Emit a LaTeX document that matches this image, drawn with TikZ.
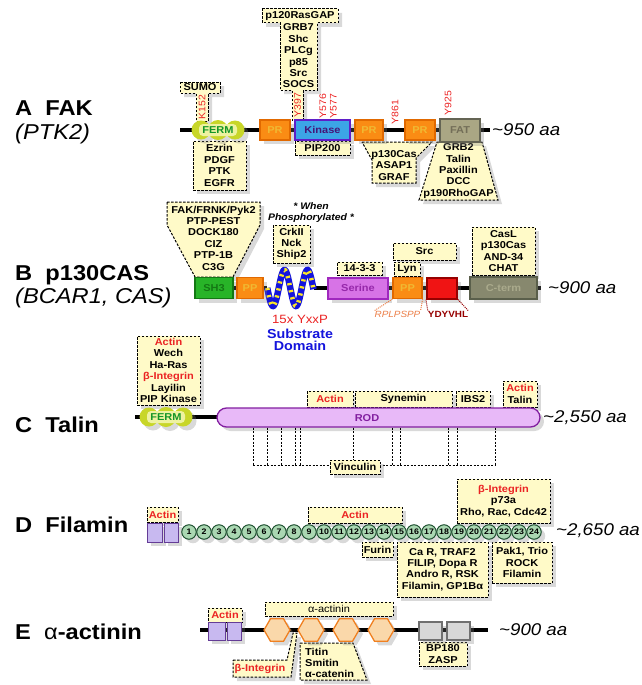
\documentclass[tikz,border=0pt]{standalone}
\usepackage{fontspec}
\setmainfont{Liberation Sans}[FakeStretch=1.1]
\usetikzlibrary{shapes.geometric,shadows}
\definecolor{bindfill}{RGB}{255,250,200}
\definecolor{fermout}{RGB}{200,214,40}
\definecolor{fermin}{RGB}{238,242,160}
\definecolor{fermtxt}{RGB}{20,150,40}
\definecolor{prfill}{RGB}{250,140,20}
\definecolor{prdraw}{RGB}{225,105,0}
\definecolor{prtxt}{RGB}{240,185,50}
\definecolor{kinfill}{RGB}{60,165,230}
\definecolor{kindraw}{RGB}{95,30,200}
\definecolor{kintxt}{RGB}{70,20,120}
\definecolor{fatfill}{RGB}{170,166,132}
\definecolor{fatdraw}{RGB}{100,100,84}
\definecolor{fattxt}{RGB}{115,110,88}
\definecolor{sh3fill}{RGB}{40,180,40}
\definecolor{sh3draw}{RGB}{20,120,20}
\definecolor{serfill}{RGB}{215,115,230}
\definecolor{serdraw}{RGB}{160,40,190}
\definecolor{sertxt}{RGB}{150,40,170}
\definecolor{ydfill}{RGB}{240,20,20}
\definecolor{yddraw}{RGB}{150,0,0}
\definecolor{ctfill}{RGB}{135,136,110}
\definecolor{ctdraw}{RGB}{90,95,75}
\definecolor{cttxt}{RGB}{170,170,140}
\definecolor{rodfill}{RGB}{232,185,248}
\definecolor{roddraw}{RGB}{130,30,160}
\definecolor{chfill}{RGB}{200,185,240}
\definecolor{chdraw}{RGB}{100,60,150}
\definecolor{igfill}{RGB}{170,215,178}
\definecolor{igdraw}{RGB}{30,80,48}
\definecolor{hexfill}{RGB}{250,216,170}
\definecolor{hexdraw}{RGB}{240,128,32}
\definecolor{spfill}{RGB}{216,216,216}
\definecolor{spdraw}{RGB}{112,112,112}
\definecolor{sitered}{RGB}{235,35,35}
\definecolor{subblue}{RGB}{20,20,220}
\definecolor{coilyel}{RGB}{250,230,40}
\definecolor{rplcol}{RGB}{235,125,70}
\begin{document}
\begin{tikzpicture}[x=1pt,y=-1pt,
  every node/.style={font=\fontsize{10}{11.4}\selectfont\bfseries,inner sep=0pt},
  shadowed/.style={drop shadow={opacity=0.3,shadow xshift=4pt,shadow yshift=-4pt}},
  bind/.style={draw,fill=bindfill,line width=1pt,dash pattern=on 2.5pt off 1.5pt,shadowed},
  wh/.style 2 args={minimum width=#1pt,minimum height=#2pt},
  backbone/.style={line width=3.5pt},
  dom/.style={draw,line width=1.3pt,shadowed},
  pr/.style={dom,fill=prfill,draw=prdraw,text=prtxt},
  ferm/.style={fill=fermin,rounded corners=4pt,minimum width=38pt,minimum height=12pt,text=fermtxt},
  igfold/.style={circle,draw=igdraw,fill=igfill,line width=1pt,minimum size=14.5pt,font=\fontsize{8}{9}\selectfont\bfseries,shadowed},
  hexa/.style={regular polygon,regular polygon sides=6,minimum size=26pt,draw=hexdraw,fill=hexfill,line width=1.3pt,shadowed},
  site/.style={font=\fontsize{9.5}{10.5}\selectfont,text=sitered,rotate=90,align=center},
  aalen/.style={font=\fontsize{17}{20}\selectfont\itshape,anchor=west},
  title/.style={font=\fontsize{21.5}{24}\selectfont\bfseries,anchor=base west},
  subtitle/.style={font=\fontsize{21.5}{24}\selectfont\itshape,anchor=base west},
  hinge/.style={densely dotted,line width=1pt},
  tether/.style={line width=1pt,dash pattern=on 2pt off 1.5pt}]
\useasboundingbox (0,0) rectangle (641,685);

% row labels
\node[title] (labA) at (15,115) {A~~FAK};
\node[subtitle] (subA) at (15,139) {(PTK2)};
\node[title] (labB) at (15,280) {B~~p130CAS};
\node[subtitle] (subB) at (15,303) {(BCAR1, CAS)};
\node[title] (labC) at (15,432) {C~~Talin};
\node[title] (labD) at (15,532) {D~~Filamin};
\node[title] (labE) at (15,639) {E~~\textmd{α}-actinin};

% A: FAK
\draw[bind] (180,82) -- (220,82) -- (220,93) -- (208,93) -- (208,121) -- (196,121) -- (196,93) -- (180,93) -- cycle;
\node (sumo) at (200,87.5) {SUMO};
\node[site] (k152) at (202,107) {K152};
\draw[bind] (262,9) -- (338,9) -- (338,23) -- (317,23) -- (317,90) -- (303,90) -- (303,120) -- (292,120) -- (292,90) -- (280,90) -- (280,23) -- (262,23) -- cycle;
\node (rasgap) at (300,16) {p120RasGAP};
\node[align=center] (grb7) at (298.5,56) {GRB7\\Shc\\PLCg\\p85\\Src\\SOCS};
\node[site] (y397) at (297.5,105) {Y397};
\node[site] (y576) at (328,106) {Y576\\Y577};
\node[site] (y861) at (395,112) {Y861};
\node[site] (y925) at (448,103) {Y925};
\node[bind,wh={53}{49},align=center] (ezrin) at (219.5,165.5) {Ezrin\\PDGF\\PTK\\EGFR};
\node[bind,wh={55}{14}] (pip200) at (322.5,148) {PIP200};
\draw[bind] (362,142) -- (432,142) -- (416,158) -- (416,183) -- (372,183) -- (372,160) -- cycle;
\node[align=center] (asap1) at (394,165.5) {p130Cas\\ASAP1\\GRAF};
\draw[bind] (437,142) -- (482,142) -- (498,200) -- (419,200) -- cycle;
\node[align=center] (grb2) at (458.5,171) {GRB2\\Talin\\Paxillin\\DCC\\p190RhoGAP};

\coordinate (fakN) at (180,130);
\coordinate (fakC) at (490,130);
\draw[backbone] (fakN) -- (fakC);
\fill[fermout,shadowed] (201,130) circle (9.5) (218,130) circle (10) (235,130) circle (9.5);
\node[ferm] (fermA) at (218,130) {FERM};
\node[pr,wh={30}{20}] (prA1) at (275,130) {PR};
\node[dom,wh={55}{20},fill=kinfill,draw=kindraw,text=kintxt,line width=2pt] (kinase) at (322.5,130) {Kinase};
\node[pr,wh={28}{20}] (prA2) at (369,130) {PR};
\node[pr,wh={30}{20}] (prA3) at (420,130) {PR};
\node[dom,wh={40}{23},fill=fatfill,draw=fatdraw,text=fattxt] (fat) at (460,130.5) {FAT};
\node[aalen] (lenA) at (492,130) {\textasciitilde950 aa};

% B: p130CAS
\draw[bind] (167,202) -- (260,202) -- (260,225) -- (233,277) -- (195,277) -- (167,225) -- cycle;
\node[align=center] (fakfrnk) at (213.5,238) {FAK/FRNK/Pyk2\\PTP-PEST\\DOCK180\\CIZ\\PTP-1B\\C3G};
\node[align=center,font=\fontsize{9.5}{11.5}\selectfont\bfseries\itshape] (whenP) at (311,212.5) {* When\\Phosphorylated *};
\node[bind,wh={37}{38},align=center] (crk) at (291.5,244) {CrkII\\Nck\\Ship2};
\node[bind,wh={45}{13}] (p1433) at (359.5,268.5) {14-3-3};
\node[bind,wh={63}{17}] (src) at (424.5,251.5) {Src};
\node[bind,wh={26}{14}] (lyn) at (407,269) {Lyn};
\node[bind,wh={63}{48},align=center] (casl) at (503.5,251) {CasL\\p130Cas\\AND-34\\CHAT};

\coordinate (casN) at (214,288);
\coordinate (coilL) at (267.25,288);
\coordinate (coilR) at (313.5,288);
\coordinate (casC) at (541,288);
\draw[backbone] (casN) -- (coilL);
\draw[backbone] (coilR) -- (casC);
\draw[line width=6.5pt,subblue,domain=267.25:313.5,samples=80,smooth] plot (\x,{288+18*sin(15.652*(\x-267.25))});
\draw[line width=4.5pt,coilyel,dash pattern=on 2.2pt off 5pt,domain=267.25:313.5,samples=80,smooth] plot (\x,{288+18*sin(15.652*(\x-267.25))});
\node[dom,wh={38}{21},fill=sh3fill,draw=sh3draw,text=sh3draw] (sh3) at (214,288) {SH3};
\node[pr,wh={26}{21}] (pp1) at (250,288) {PP};
\node[dom,wh={60}{21},fill=serfill,draw=serdraw,text=sertxt,line width=2pt] (serine) at (358,288) {Serine};
\node[pr,wh={29}{21}] (pp2) at (407.5,288) {PP};
\node[dom,wh={30}{21},fill=ydfill,draw=yddraw,line width=2pt] (yd) at (442,288) {};
\node[dom,wh={67}{22},fill=ctfill,draw=ctdraw,text=cttxt] (cterm) at (503.5,288) {C-term};
\node[aalen] (lenB) at (548,288) {\textasciitilde900 aa};
\node[font=\fontsize{9}{10}\selectfont\itshape,text=rplcol] (rplp) at (397.5,314) {RPLPSPP};
\node[font=\fontsize{9}{10}\selectfont\bfseries,text=yddraw] (ydyvhl) at (448,314) {YDYVHL};
\draw[hinge,rplcol] (pp2.south west) -- (rplp.north west);
\draw[hinge,rplcol] (pp2.south east) -- (rplp.north east);
\draw[hinge,yddraw] (yd.south west) -- (ydyvhl.north west);
\draw[hinge,yddraw] (yd.south east) -- (ydyvhl.north east);
\node[font=\fontsize{12}{13}\selectfont,text=sitered] (yxxp) at (300,319.5) {15x YxxP};
\node[font=\fontsize{13}{12.5}\selectfont\bfseries,text=subblue,align=center] (subdom) at (300,340) {Substrate\\Domain};

% C: Talin
\node[bind,wh={63}{69},align=center] (talbind) at (168.5,370.5) {\textcolor{sitered}{Actin}\\Wech\\Ha-Ras\\\textcolor{sitered}{β-Integrin}\\Layilin\\PIP Kinase};
\node[bind,wh={46}{16},text=sitered] (actC1) at (330,399) {Actin};
\node[bind,wh={97}{16}] (synemin) at (403.5,399) {Synemin};
\node[bind,wh={34}{16}] (ibs2) at (473,399) {IBS2};
\node[bind,wh={34}{26},align=center] (actC2) at (520,394) {\textcolor{sitered}{Actin}\\Talin};
\coordinate (talN) at (135,417);
\coordinate (talM) at (230,417);
\draw[backbone] (talN) -- (talM);
\fill[fermout,shadowed] (149,417) circle (9.5) (166,417) circle (10) (183,417) circle (9.5);
\node[ferm] (fermC) at (166,417) {FERM};
\node[dom,wh={323}{19},rounded corners=9.5pt,fill=rodfill,draw=roddraw] (rod) at (378.5,417.5) {};
\node[text=roddraw] (rodtxt) at (367,418) {ROD};
\node[aalen] (lenC) at (543,418) {\textasciitilde2,550 aa};
\coordinate (vl) at (253,465);
\coordinate (vr) at (495,465);
\foreach \x in {253,267,281,295,300,353,392,400,448,457,495}
  \draw[tether] (rod.south -| \x,0) -- (\x,465);
\draw[tether] (vl) -- (vr);
\node[bind,wh={50}{14}] (vinculin) at (355,467) {Vinculin};

% D: Filamin
\node[bind,wh={31}{15},text=sitered] (actD1) at (162.5,514.5) {Actin};
\node[bind,wh={94}{16},text=sitered] (actD2) at (355,515) {Actin};
\node[bind,wh={93}{44},align=center] (integD) at (503.5,501) {\textcolor{sitered}{β-Integrin}\\p73a\\Rho, Rac, Cdc42};
\node[bind,wh={31}{15}] (furin) at (377.5,549.5) {Furin};
\node[bind,wh={91}{55},align=center] (carD) at (442.5,569.5) {Ca R, TRAF2\\FILIP, Dopa R\\Andro R, RSK\\Filamin, GP1Bα};
\node[bind,wh={60}{41},align=center] (pakD) at (522,562.5) {Pak1, Trio\\ROCK\\Filamin};
\node[dom,wh={15}{19},fill=chfill,draw=chdraw,line width=1pt] (chD1) at (154.5,532.5) {};
\node[dom,wh={14}{19},fill=chfill,draw=chdraw,line width=1pt] (chD2) at (171,532.5) {};
\foreach \i in {1,...,24}
  \node[igfold] (ig\i) at ({189+15*(\i-1)},532) {\i};
\node[aalen] (lenD) at (556,531) {\textasciitilde2,650 aa};

% E: alpha-actinin
\node[bind,wh={34}{14},text=sitered] (actE) at (225,615) {Actin};
\node[bind,wh={128}{14},font=\fontsize{10}{11}\selectfont] (aactE) at (329,609) {α-actinin};
\draw[bind] (233,660) -- (287,660) -- (293,633) -- (297,633) -- (291,677) -- (233,677) -- cycle;
\node[text=sitered] (integE) at (260,668.5) {β-Integrin};
\draw[bind] (300,643) -- (353,643) -- (367,680) -- (300,680) -- cycle;
\node[align=left,anchor=west] (titin) at (305,663) {Titin\\Smitin\\α-catenin};
\node[bind,wh={48}{24},align=center] (bp180) at (443,654) {BP180\\ZASP};
\coordinate (actN) at (200,630);
\coordinate (actC) at (488,630);
\draw[backbone] (actN) -- (actC);
\node[dom,wh={17}{18},fill=chfill,draw=chdraw,line width=1pt] (chE1) at (216.5,631) {};
\node[dom,wh={14}{18},fill=chfill,draw=chdraw,line width=1pt] (chE2) at (234,631) {};
\foreach \x [count=\k] in {277,311,346,381}
  \node[hexa] (sr\k) at (\x,630) {};
\node[dom,wh={23}{18},fill=spfill,draw=spdraw] (ehE1) at (430.5,631) {};
\node[dom,wh={23}{18},fill=spfill,draw=spdraw] (ehE2) at (458.5,631) {};
\node[aalen] (lenE) at (499,630) {\textasciitilde900 aa};
\end{tikzpicture}
\end{document}
